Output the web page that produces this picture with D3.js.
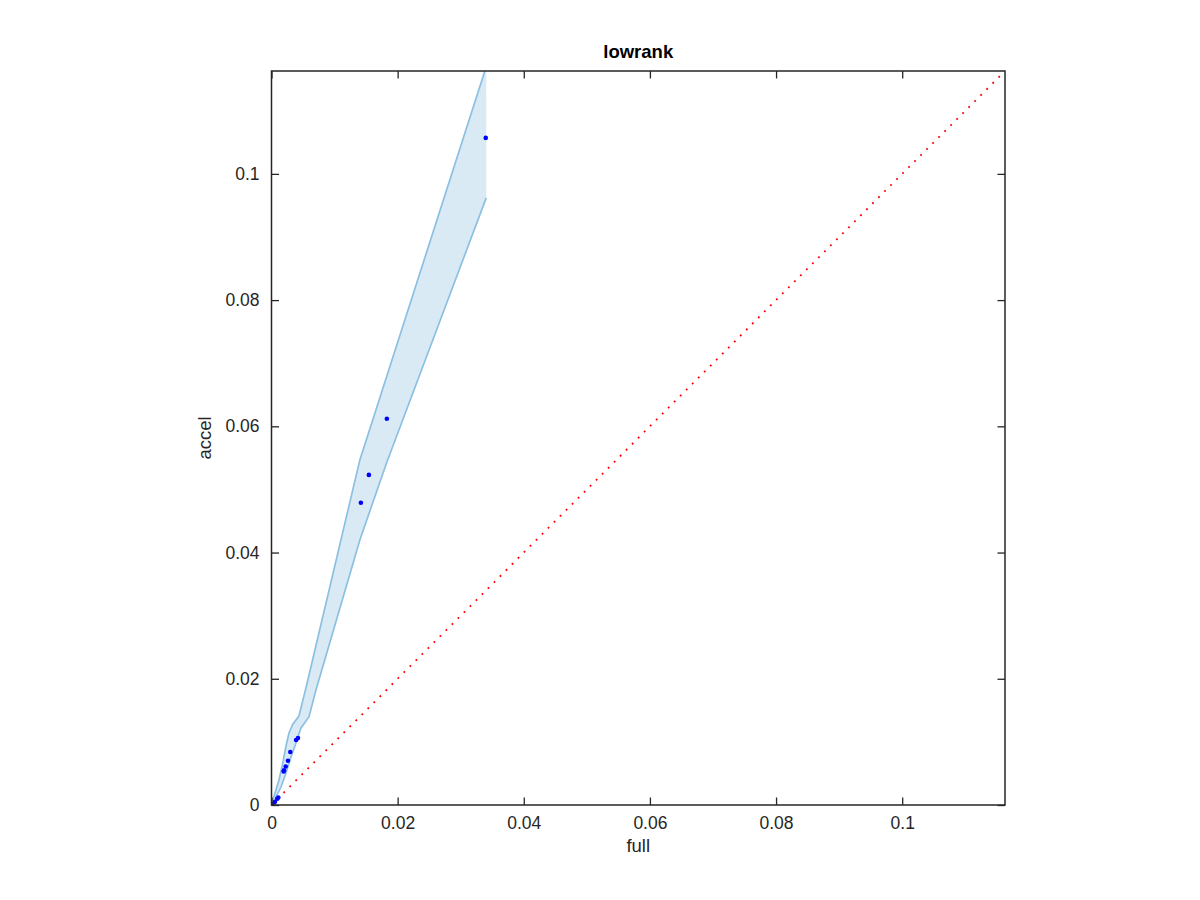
<!DOCTYPE html>
<html><head><meta charset="utf-8">
<script src="https://cdn.jsdelivr.net/npm/d3@7"></script>
<style>body{margin:0;background:#fff;} svg{display:block;} text{font-family:"Liberation Sans",Arial,sans-serif;}</style>
</head><body>
<svg id="c" width="1200" height="900"></svg>
<script>
// data points (full, accel)
const pointsX = [0.03397, 0.01829, 0.01544, 0.01417, 0.0042, 0.0039, 0.00298, 0.00261, 0.00225, 0.00198, 0.00193, 0.00108, 0.00092, 0.00055, 0.0001, 0.0];
const pointsY = [0.1057, 0.0612, 0.0523, 0.0479, 0.0106, 0.0103, 0.0084, 0.0070, 0.0061, 0.0055, 0.0053, 0.0012, 0.0010, 0.0005, 0.0001, 0.0];
// band boundary (upper edge and lower edge)
const upperX = [0.0, 0.00008, 0.00055, 0.00119, 0.00182, 0.00230, 0.00277, 0.00340, 0.00435, 0.00546, 0.01401, 0.03405];
const upperY = [0.0, 0.00032, 0.00190, 0.00396, 0.00681, 0.00935, 0.01141, 0.01284, 0.01410, 0.01854, 0.05468, 0.1170];
const lowerX = [0.0004, 0.00071, 0.00150, 0.00230, 0.00309, 0.00388, 0.00467, 0.00594, 0.00705, 0.01401, 0.01824, 0.03405];
const lowerY = [0.0, 0.00127, 0.00285, 0.00507, 0.00761, 0.00983, 0.01220, 0.01395, 0.01823, 0.04200, 0.05420, 0.09620];
const tickVals = [0, 0.02, 0.04, 0.06, 0.08, 0.1];
const tickLabels = ["0", "0.02", "0.04", "0.06", "0.08", "0.1"];
const axisMax = 0.1163;

const svg = d3.select("#c");
const L = 271.5, R = 1005, T = 71, B = 805;
const x = d3.scaleLinear().domain([0, axisMax]).range([L, R]);
const y = d3.scaleLinear().domain([0, axisMax]).range([B, T]);
const axC = "#262626";

svg.append("clipPath").attr("id","clip").append("rect")
  .attr("x", L).attr("y", T).attr("width", R-L).attr("height", B-T);
const g = svg.append("g").attr("clip-path","url(#clip)");

// band
const up = upperX.map((v,i)=>[v, upperY[i]]);
const lo = lowerX.map((v,i)=>[v, lowerY[i]]);
const poly = up.concat(lo.slice().reverse());
g.append("path").attr("d", d3.line().x(d=>x(d[0])).y(d=>y(d[1]))(poly) + "Z")
  .attr("fill", "rgb(217,234,245)").attr("stroke", "none");
const edge = d3.line().x(d=>x(d[0])).y(d=>y(d[1]));
g.append("path").attr("d", edge(up)).attr("fill","none").attr("stroke","rgb(140,192,226)").attr("stroke-width",1.7);
g.append("path").attr("d", edge(lo)).attr("fill","none").attr("stroke","rgb(140,192,226)").attr("stroke-width",1.7);

// diagonal
g.append("line").attr("x1", x(0)).attr("y1", y(0)).attr("x2", x(axisMax)).attr("y2", y(axisMax))
  .attr("stroke","#ff0000").attr("stroke-width",1.8).attr("stroke-dasharray","1.8,6.7");

// points
g.selectAll("circle.p").data(pointsX).enter().append("circle")
  .attr("cx",(d)=>x(d)).attr("cy",(d,i)=>y(pointsY[i])).attr("r",2.3).attr("fill","#0000ff");

// axes
const tl = 7.5;
const xb = d3.axisBottom(x).tickValues(tickVals).tickFormat((d,i)=>tickLabels[i]).tickSizeInner(-tl).tickSizeOuter(0).tickPadding(12);
const xt = d3.axisTop(x).tickValues(tickVals).tickFormat("").tickSizeInner(-tl).tickSizeOuter(0);
const yl = d3.axisLeft(y).tickValues(tickVals).tickFormat((d,i)=>tickLabels[i]).tickSizeInner(-tl).tickSizeOuter(0).tickPadding(12);
const yr = d3.axisRight(y).tickValues(tickVals).tickFormat("").tickSizeInner(-tl).tickSizeOuter(0);
function style(sel){
  sel.select(".domain").remove();
  sel.selectAll(".tick line").attr("stroke",axC).attr("stroke-width",1.3);
  sel.selectAll(".tick text").attr("fill",axC).attr("font-size",17.5);
}
svg.append("g").attr("transform",`translate(0,${B})`).call(xb).call(style);
svg.append("g").attr("transform",`translate(0,${T})`).call(xt).call(style);
svg.append("g").attr("transform",`translate(${L},0)`).call(yl).call(style);
svg.append("g").attr("transform",`translate(${R},0)`).call(yr).call(style);
svg.append("rect").attr("x",L).attr("y",T).attr("width",R-L).attr("height",B-T)
  .attr("fill","none").attr("stroke",axC).attr("stroke-width",1.5);

// labels
svg.append("text").attr("x",(L+R)/2).attr("y",58).attr("text-anchor","middle")
  .attr("font-size",18.5).attr("font-weight","bold").attr("fill","#000").text("lowrank");
svg.append("text").attr("x",(L+R)/2).attr("y",852).attr("text-anchor","middle")
  .attr("font-size",18.5).attr("fill",axC).text("full");
svg.append("text").attr("transform",`translate(211,${(T+B)/2}) rotate(-90)`).attr("text-anchor","middle")
  .attr("font-size",18.5).attr("fill",axC).text("accel");
</script>
</body></html>
